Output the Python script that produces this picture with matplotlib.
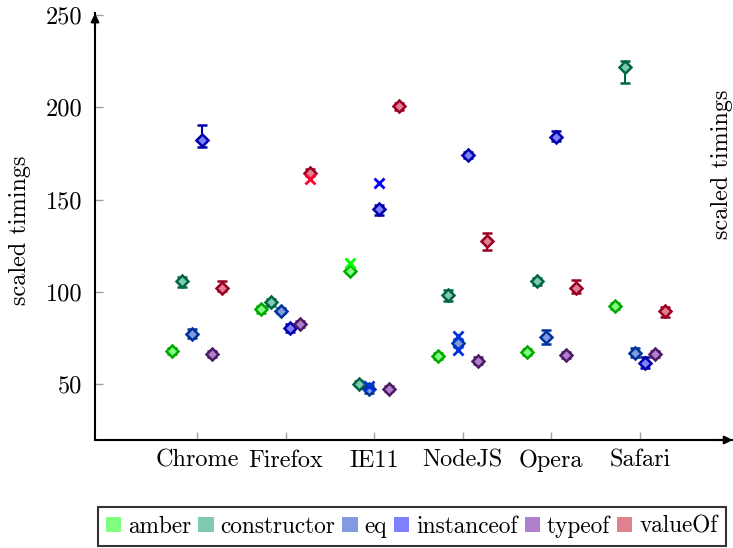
import matplotlib
matplotlib.use("Agg")
import matplotlib.pyplot as plt
from matplotlib.patches import Patch
import numpy as np

plt.rcParams['font.family'] = ['cmr10', 'DejaVu Serif']
plt.rcParams['axes.formatter.use_mathtext'] = True
plt.rcParams['mathtext.fontset'] = 'cm'

categories = ['Chrome', 'Firefox', 'IE11', 'NodeJS', 'Opera', 'Safari']
series = ['amber', 'constructor', 'eq', 'instanceof', 'typeof', 'valueOf']

amber = [68.0, 90.5, 111.5, 65.3, 67.5, 92.3]
constructor = [105.8, 94.3, 50.3, 98.3, 105.6, 222.0]
eq = [77.2, 89.8, 47.3, 72.3, 75.6, 66.9]
instanceof = [182.5, 80.4, 144.8, 174.2, 184.0, 61.5]
typeof_ = [66.3, 82.7, 47.5, 62.7, 65.7, 66.3]
valueOf = [102.3, 164.6, 200.6, 127.8, 102.3, 89.5]

amber_err_lo = [1.5, 2.0, 1.5, 1.5, 1.5, 1.5]
amber_err_hi = [1.5, 2.0, 1.5, 1.5, 1.5, 1.5]
constructor_err_lo = [3.0, 2.0, 1.5, 3.0, 2.0, 9.0]
constructor_err_hi = [2.5, 2.0, 1.5, 2.5, 2.0, 3.0]
eq_err_lo = [2.0, 1.5, 2.0, 2.0, 4.0, 2.0]
eq_err_hi = [2.5, 1.5, 2.0, 2.0, 3.5, 2.5]
instanceof_err_lo = [4.0, 2.0, 3.0, 1.5, 2.5, 3.0]
instanceof_err_hi = [8.0, 2.0, 2.5, 1.5, 3.0, 3.0]
typeof_err_lo = [1.8, 1.5, 1.5, 1.8, 1.5, 1.5]
typeof_err_hi = [1.8, 1.5, 1.5, 1.8, 1.5, 1.5]
valueOf_err_lo = [2.0, 2.0, 2.0, 5.0, 3.0, 3.0]
valueOf_err_hi = [3.5, 2.0, 2.0, 4.0, 4.0, 2.5]

# secondary measurements drawn as crosses: (series, category, value)
cross_series = ['amber', 'eq', 'eq', 'eq', 'instanceof', 'valueOf']
cross_categories = ['IE11', 'IE11', 'NodeJS', 'NodeJS', 'IE11', 'Firefox']
cross_values = [115.7, 49.0, 76.0, 68.5, 159.0, 161.0]

means = [amber, constructor, eq, instanceof, typeof_, valueOf]
errs_lo = [amber_err_lo, constructor_err_lo, eq_err_lo, instanceof_err_lo, typeof_err_lo, valueOf_err_lo]
errs_hi = [amber_err_hi, constructor_err_hi, eq_err_hi, instanceof_err_hi, typeof_err_hi, valueOf_err_hi]

edge_colors = ['#00a800', '#006644', '#003399', '#0000aa', '#4d1a66', '#990022']
face_colors = ['#80ff80', '#80cbb0', '#809be0', '#8080ff', '#b080cc', '#e08090']
cross_colors = {'amber': '#00ff00', 'eq': '#0033dd', 'instanceof': '#0000ff', 'valueOf': '#ff0033'}

W, H = 733, 548
fig = plt.figure(figsize=(W / 100, H / 100), dpi=100)
ax_left, ax_right = 95, 733
ax_bottom, ax_top = 440, 13.2
ax = fig.add_axes([ax_left / W, 1 - ax_bottom / H, (ax_right - ax_left) / W, (ax_bottom - ax_top) / H])

fs = 17.5
x = np.arange(len(categories))
step = 0.111
for i, name in enumerate(series):
    off = (i - (len(series) - 1) / 2) * step
    ax.errorbar(x + off, means[i], yerr=[errs_lo[i], errs_hi[i]], fmt='D',
                color=edge_colors[i], ecolor=edge_colors[i], mfc=face_colors[i],
                mec=edge_colors[i], mew=1.8, ms=6, elinewidth=1.5, capsize=3.5,
                capthick=1.5, zorder=3)

for s, c, v in zip(cross_series, cross_categories, cross_values):
    i = series.index(s)
    off = (i - (len(series) - 1) / 2) * step
    ax.plot(categories.index(c) + off, v, 'x', color=cross_colors[s], ms=7, mew=2, zorder=4)

ax.set_xlim(-1.151, 6.05)
ax.set_ylim(19.7, 251)
ax.set_xticks(x)
ax.set_xticklabels(categories, fontsize=fs)
ax.set_yticks([50, 100, 150, 200, 250])
ax.set_yticklabels(['50', '100', '150', '200', '250'], fontsize=fs)
ax.tick_params(axis='both', direction='in', color='#a0a0a0', length=6, width=1)
ax.tick_params(axis='y', pad=9)
ax.tick_params(axis='x', pad=7)
for sp in ['top', 'right']:
    ax.spines[sp].set_visible(False)
for sp in ['left', 'bottom']:
    ax.spines[sp].set_linewidth(1.5)
# arrow heads
ax.annotate('', xy=(0, 1.006), xytext=(0, 0.96), xycoords='axes fraction',
            arrowprops=dict(arrowstyle='-|>', color='black', lw=1.5, mutation_scale=12))
ax.annotate('', xy=(1.004, 0), xytext=(0.96, 0), xycoords='axes fraction',
            arrowprops=dict(arrowstyle='-|>', color='black', lw=1.5, mutation_scale=12), annotation_clip=False)

fig.text(20 / W, 1 - 230 / H, 'scaled timings', rotation=90, ha='center', va='center', fontsize=fs)
fig.text(722 / W, 1 - 164 / H, 'scaled timings', rotation=90, ha='center', va='center', fontsize=fs)

handles = [Patch(facecolor=face_colors[i], edgecolor='none') for i in range(len(series))]
leg = fig.legend(handles, series, loc='upper left', bbox_to_anchor=(98 / W, 1 - 507 / H),
                 ncol=6, fontsize=16.8, frameon=True, fancybox=False, handlelength=0.65,
                 handleheight=0.65, handletextpad=0.3, columnspacing=0.3, borderpad=0.35,
                 borderaxespad=0)
leg.get_frame().set_edgecolor('black')
leg.get_frame().set_linewidth(1.5)

fig.savefig('out.png', dpi=100)
